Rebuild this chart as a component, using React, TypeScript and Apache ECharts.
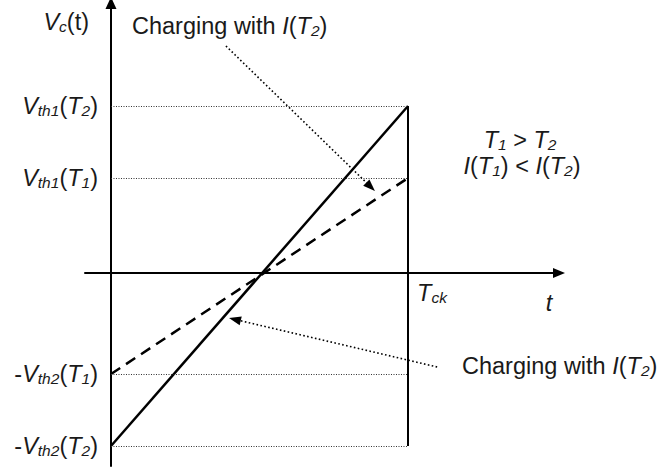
import { useEffect, useRef } from "react";
import * as echarts from "echarts";

// Capacitor voltage ramps: time points (0 and T_ck) and the two charging lines
const tPoints = [0, 1];
const vcCurrentT2 = [-1.73, 1.67]; // steeper ramp, larger current I(T2)
const vcCurrentT1 = [-1.01, 0.95]; // shallower ramp, smaller current I(T1)

// Threshold levels marked on the voltage axis
const thresholdValues = [1.67, 0.95, -1.01, -1.73];
const thresholdLabels = [
  "{i|V}{s|th1}{n|(}{i|T}{s|2}{n|)}",
  "{i|V}{s|th1}{n|(}{i|T}{s|1}{n|)}",
  "{n|-}{i|V}{s|th2}{n|(}{i|T}{s|1}{n|)}",
  "{n|-}{i|V}{s|th2}{n|(}{i|T}{s|2}{n|)}",
];
const clockValue = 1;
const clockLabel = "{i|T}{s|ck}";

// Annotation arrows in (t, V) coordinates: [tail, head]
const upperArrow = [
  [0.387, 2.27],
  [0.874, 0.862],
];
const lowerArrow = [
  [1.098, -0.94],
  [0.417, -0.464],
];

const FONT = '"Liberation Sans", Arial, Helvetica, sans-serif';
const INK = "#1a1a1a";
const FS = 23.5;
const SUB = 15.5;

const rich: Record<string, any> = {
  n: { fontFamily: FONT, fontSize: FS, lineHeight: 26, color: INK, fill: INK },
  i: { fontFamily: FONT, fontSize: FS, lineHeight: 26, fontStyle: "italic", color: INK, fill: INK },
  s: {
    fontFamily: FONT,
    fontSize: SUB,
    lineHeight: 26,
    fontStyle: "italic",
    padding: [9, 0, 0, 0],
    color: INK,
    fill: INK,
  },
};

function richText(x: number, y: number, text: string, align: string = "left") {
  return {
    type: "text",
    x,
    y,
    silent: true,
    style: {
      text,
      rich,
      align,
      verticalAlign: "middle",
      fontFamily: FONT,
      fontSize: FS,
      fill: INK,
    },
  };
}

export default function App() {
  const ref = useRef<HTMLDivElement>(null);

  useEffect(() => {
    if (!ref.current) return;
    const chart = echarts.init(ref.current, null, { renderer: "svg" });

    const guideLines = thresholdValues.map((v) => [
      { coord: [tPoints[0], v] },
      { coord: [clockValue, v] },
    ]);

    chart.setOption({
      animation: false,
      backgroundColor: "#ffffff",
      grid: {
        left: 85,
        right: 109,
        top: 9,
        bottom: 5,
        containLabel: false,
        outerBoundsMode: "none",
      },
      xAxis: {
        type: "value",
        min: -0.0875,
        max: 1.488,
        axisLine: {
          onZero: true,
          symbol: ["none", "triangle"],
          symbolSize: [10, 12],
          symbolOffset: [0, 6],
          lineStyle: { color: "#000", width: 2 },
        },
        axisTick: { show: false },
        splitLine: { show: false },
        axisLabel: { show: false },
      },
      yAxis: {
        type: "value",
        min: -1.93,
        max: 2.64,
        axisLine: {
          onZero: true,
          symbol: ["none", "triangle"],
          symbolSize: [11, 12],
          symbolOffset: [0, 6],
          lineStyle: { color: "#000", width: 2 },
        },
        axisTick: { show: false },
        splitLine: { show: false },
        axisLabel: {
          customValues: thresholdValues,
          formatter: (val: number) => {
            const idx = thresholdValues.findIndex((v) => Math.abs(v - val) < 1e-6);
            return idx >= 0 ? thresholdLabels[idx] : "";
          },
          rich,
          // labels are laid out from the grid edge; the visible axis sits at t = 0
          margin: -13,
        },
      },
      series: [
        {
          type: "line",
          symbol: "none",
          data: tPoints.map((t, i) => [t, vcCurrentT2[i]]),
          lineStyle: { color: "#000", width: 2.5 },
          z: 3,
          markLine: {
            silent: true,
            symbol: "none",
            label: { show: false },
            lineStyle: { color: "#333", width: 1, type: [1, 1.5] },
            data: [
              ...guideLines,
              [
                { coord: [clockValue, vcCurrentT2[1]], lineStyle: { color: "#000", width: 2, type: "solid" } },
                { coord: [clockValue, vcCurrentT2[0]] },
              ],
            ],
          },
          // T_ck tick label just below the time axis
          markPoint: {
            silent: true,
            symbol: "circle",
            symbolSize: 0,
            data: [{ coord: [clockValue, 0] }],
            label: {
              show: true,
              position: "insideTopLeft",
              offset: [4, 2],
              formatter: () => clockLabel,
              rich,
            },
          },
        },
        {
          type: "line",
          symbol: "none",
          data: tPoints.map((t, i) => [t, vcCurrentT1[i]]),
          lineStyle: { color: "#000", width: 2.5, type: [11, 7] },
          z: 3,
          markLine: {
            silent: true,
            symbol: ["none", "triangle"],
            symbolSize: [9, 12],
            label: { show: false },
            lineStyle: { color: "#000", width: 1.6, type: [1.6, 2.4] },
            data: [
              [{ coord: upperArrow[0] }, { coord: upperArrow[1] }],
              [{ coord: lowerArrow[0] }, { coord: lowerArrow[1] }],
            ],
          },
        },
      ],
      graphic: [
        richText(89, 22, "{i|V}{s|c}{n|(t)}", "right"),
        richText(132, 26, "{n|Charging with }{i|I}{n|(}{i|T}{s|2}{n|)}"),
        richText(462, 366, "{n|Charging with }{i|I}{n|(}{i|T}{s|2}{n|)}"),
        richText(520, 140, "{i|T}{s|1}{n| > }{i|T}{s|2}", "center"),
        richText(522, 166, "{i|I}{n|(}{i|T}{s|1}{n|) < }{i|I}{n|(}{i|T}{s|2}{n|)}", "center"),
        richText(549, 303, "{i|t}", "center"),
      ],
    });

    return () => chart.dispose();
  }, []);

  return (
    <div
      ref={ref}
      style={{ position: "fixed", left: 0, top: 0, width: 662, height: 471, background: "#fff" }}
    />
  );
}
